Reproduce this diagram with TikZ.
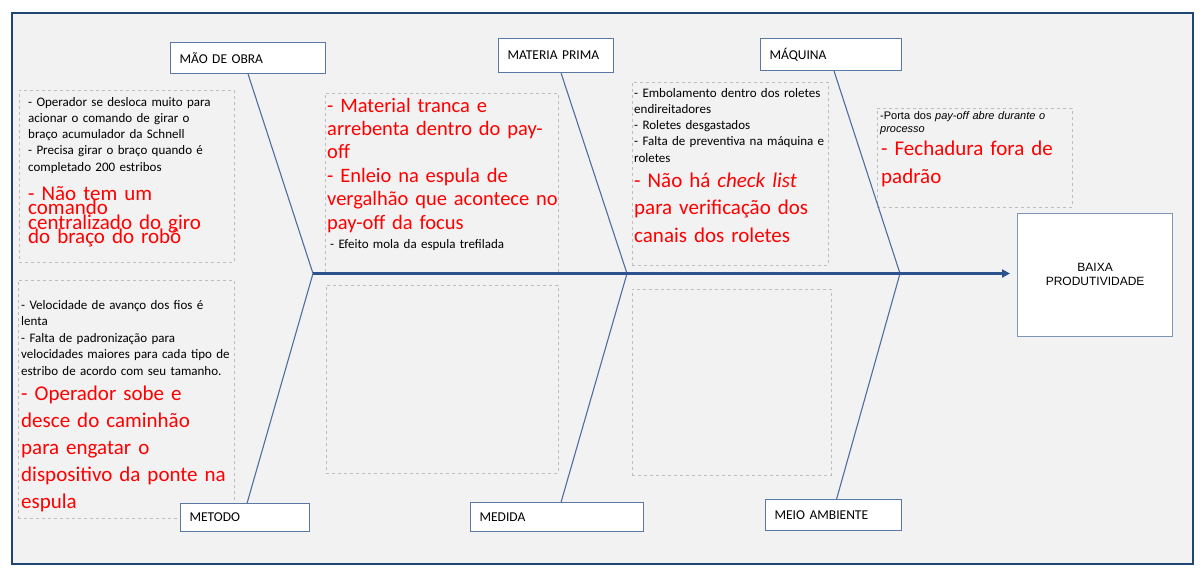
\documentclass[tikz,border=0pt]{standalone}
\usepackage{fontspec}
\setmainfont{Carlito}
\newfontfamily\arialfont{Liberation Sans}
\usetikzlibrary{arrows.meta}
\definecolor{frameblue}{HTML}{1F4673}
\definecolor{bgray}{HTML}{F2F2F2}
\definecolor{bonecol}{HTML}{4F6E9E}
\definecolor{spinecol}{HTML}{2C5290}
\definecolor{boxedge}{HTML}{5A78A6}
\definecolor{effedge}{HTML}{7F95B8}
\definecolor{dashgray}{HTML}{BDBDBD}
\newcommand{\blkfont}{\fontsize{13}{16.3}\selectfont}
\newcommand{\redfont}[2]{\fontsize{#1}{#2}\selectfont\lineskiplimit=-40pt}

\begin{document}
\begin{tikzpicture}[x=1pt,y=-1pt,
  cat/.style={draw=boxedge,line width=1.2pt,fill=white,anchor=north west,
    inner xsep=9pt,inner ysep=0pt,align=left,font=\fontsize{13.5}{14}\selectfont},
  note/.style={draw=dashgray,dashed,line width=0.8pt,fill=bgray,anchor=north west,inner sep=0pt},
  txt/.style={anchor=base west,inner sep=0pt,align=left,text width=300pt},
  small/.style={txt,font=\blkfont},
  bone/.style={draw=bonecol,line width=1.1pt},
  spine/.style={draw=spinecol,line width=3pt,-{Triangle[length=8pt,width=8pt]}},
  ]
\useasboundingbox (0,0) rectangle (1200,571);

% frame
\draw[frameblue,line width=2.5pt,fill=bgray] (12,13) rectangle (1193,564);

% note areas
\node[note,minimum width=215pt,minimum height=172pt] (n1) at (19,90) {};
\node[note,minimum width=216pt,minimum height=238pt] (n2) at (18,280) {};
\node[note,minimum width=233pt,minimum height=180pt] (n3) at (325,93) {};
\node[note,minimum width=232pt,minimum height=188pt] (n4) at (326,285) {};
\node[note,minimum width=196pt,minimum height=183pt] (n5) at (632,82) {};
\node[note,minimum width=199pt,minimum height=186pt] (n6) at (632,289) {};
\node[note,minimum width=195pt,minimum height=99pt] (n7) at (877,108) {};

% category boxes
\node[cat,text width=137pt,minimum height=31pt] (mao) at (170,42) {MÃO DE OBRA};
\node[cat,text width=97pt,minimum height=34pt] (mp) at (498,38) {MATERIA PRIMA};
\node[cat,text width=123pt,minimum height=32pt] (maq) at (760,38) {MÁQUINA};
\node[cat,text width=111pt,minimum height=28pt] (met) at (180,503) {METODO};
\node[cat,text width=155pt,minimum height=29pt] (med) at (470,502) {MEDIDA};
\node[cat,text width=118pt,minimum height=31pt] (meio) at (765,499) {MEIO AMBIENTE};

% effect
\node[draw=effedge,line width=1.3pt,fill=white,anchor=north west,
  minimum width=155pt,minimum height=123pt,align=center,
  font=\arialfont\fontsize{12}{14}\selectfont] (eff) at (1017,212.5) {BAIXA\\PRODUTIVIDADE};

% spine and bones
\coordinate (j0) at (313,273.5);
\coordinate (j1) at (627,273.5);
\coordinate (j2) at (900,273.5);
\draw[bone] (mao.south) -- (j0) -- ([xshift=2pt]met.north);
\draw[bone] ([xshift=5pt]mp.south) -- (j1) -- ([xshift=4pt]med.north);
\draw[bone] ([xshift=3pt]maq.south) -- (j2) -- ([xshift=3pt]meio.north);
\draw[spine,shorten >=7pt] (j0) -- (j0 -| eff.west);

% MÃO DE OBRA notes
\node[small] (t1a) at (28,106) {- Operador se desloca muito para\\
acionar o  comando de girar  o\\
braço acumulador da Schnell\\
- Precisa girar  o braço quando é\\
completado 200 estribos};
\node[txt,text=red,font=\redfont{21}{14.5}] (t1b) at (28,200) {- Não tem um\\
comando\\
centralizado do giro\\
do braço do robô};

% METODO notes
\node[small,font=\fontsize{13}{16.5}\selectfont] (t2a) at (21,309) {- Velocidade de avanço dos fios é\\
lenta\\
- Falta de padronização para\\
velocidades maiores para cada tipo de\\
estribo de acordo com seu tamanho.};
\node[txt,text=red,font=\redfont{21}{27}] (t2b) at (21,400) {- Operador sobe e\\
desce do  caminhão\\
para engatar o\\
dispositivo da ponte na\\
espula};

% MATERIA PRIMA notes
\node[txt,text=red,font=\redfont{20.5}{23.4}] (t3a) at (327,112) {- Material tranca e\\
arrebenta dentro do pay-\\
off\\
- Enleio na espula de\\
vergalhão que acontece no\\
pay-off da focus};
\node[small] (t3b) at (330,248) {- Efeito mola da espula trefilada};

% MÁQUINA notes
\node[small] (t5a) at (634,97) {- Embolamento dentro dos roletes\\
endireitadores\\
- Roletes desgastados\\
- Falta de preventiva na máquina e\\
roletes};
\node[txt,text=red,font=\redfont{21}{27.5}] (t5b) at (634,187) {- Não há \textit{check list}\\
para verificação dos\\
canais dos roletes};

% MEIO AMBIENTE notes
\node[txt,font=\arialfont\fontsize{11}{13}\selectfont] (t7a) at (880,119) {-Porta dos \textit{pay-off  abre durante o}\\
\textit{processo}};
\node[txt,text=red,font=\redfont{21}{28}] (t7b) at (881,155) {- Fechadura fora de\\
padrão};
\end{tikzpicture}
\end{document}
